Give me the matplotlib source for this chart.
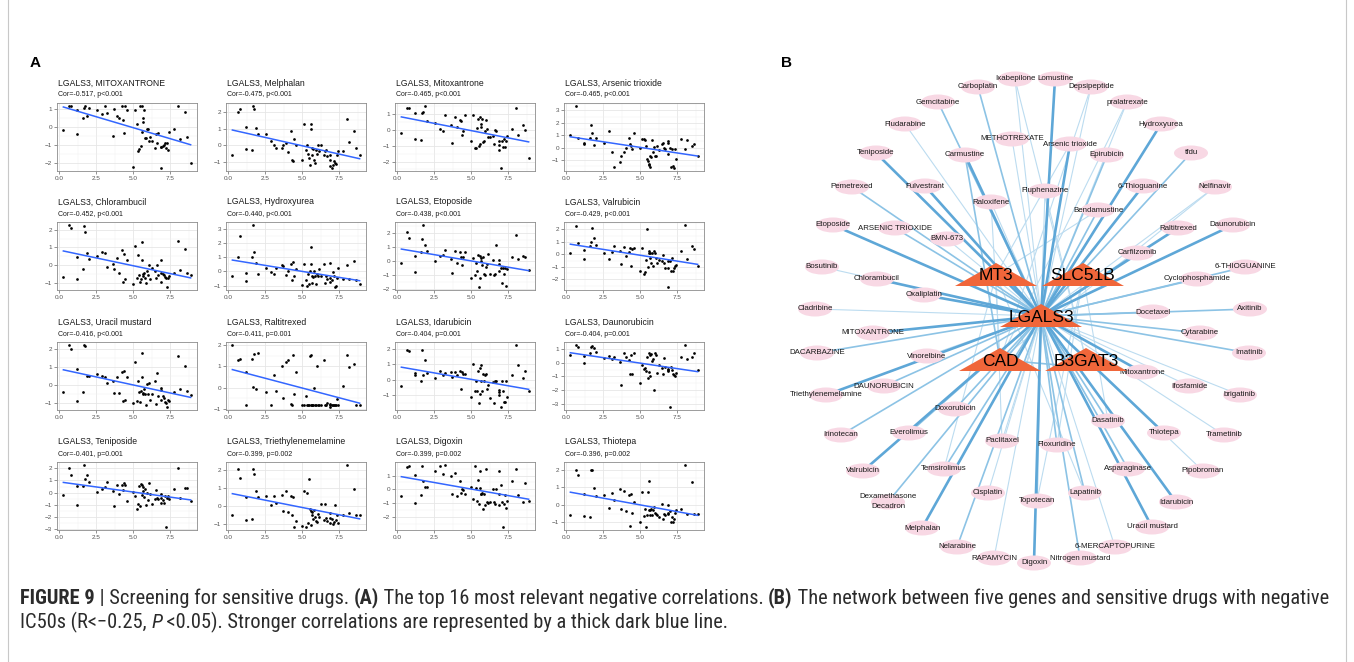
import numpy as np
import matplotlib
matplotlib.use('Agg')
import matplotlib.pyplot as plt
from matplotlib.ticker import MultipleLocator, FixedLocator
from matplotlib.patches import Ellipse, Polygon
from matplotlib.lines import Line2D
from matplotlib import font_manager
from matplotlib.font_manager import FontProperties

# ---------------- data: panel A ----------------
# LGALS3 expression (shared x for all 16 scatter plots)
x_lgals3 = [0.27, 0.65, 0.77, 1.17, 1.2, 1.57, 1.69, 1.75, 1.9, 2.0, 2.55, 2.85, 3.08, 3.24, 3.6,
            3.7, 3.87, 4.05, 4.25, 4.3, 4.37, 4.43, 4.6, 4.95, 5.1, 5.25, 5.34, 5.4, 5.45, 5.5,
            5.55, 5.6, 5.63, 5.68, 5.72, 5.8, 5.84, 5.9, 5.97, 6.08, 6.15, 6.28, 6.46, 6.53, 6.6,
            6.69, 6.85, 6.87, 6.9, 7.0, 7.07, 7.14, 7.2, 7.25, 7.36, 7.43, 7.75, 8.04, 8.15, 8.5,
            8.6, 8.87]

y_mitoxantrone_uc = [-0.2, 1.15, 1.15, -0.4, 0.95, 0.5, 1.05, 1.15, 0.6, 1.05, 0.95, 0.7, 1.15, 0.75, -0.5,
                     1.0, 0.6, 0.5, 1.15, 0.4, -0.35, 1.15, 0.95, -2.25, 0.95, 0.15, -1.35, -1.25, 1.15, -1.1,
                     1.15, -0.3, 0.5, 0.25, 0.95, -0.65, -0.65, -0.15, -0.15, -0.8, -0.6, -0.8, -1.2, -0.4, -0.9,
                     -0.35, -1.15, -2.3, -1.15, -1.1, -1.0, -0.9, -1.2, -0.9, -1.3, -0.3, -0.15, 1.15, -0.7, 0.8,
                     -0.6, -2.05]
y_melphalan = [-0.6, 2.0, 2.15, 1.1, -0.2, -0.25, 2.35, 2.2, 1.05, 0.65, 0.7, 0.25, 0.05, -0.15, -0.15,
               0.05, 0.15, -0.4, 0.85, -0.85, -0.95, 0.4, 0.05, -0.85, 1.3, -0.25, 0.0, -0.5, -0.75, -1.15,
               0.95, 1.25, -0.6, -0.15, -0.2, -0.9, -1.05, -0.25, -0.5, 0.05, -0.35, 0.05, -0.6, -0.35, -0.25,
               -0.65, -0.85, -0.55, -1.25, -1.35, -1.15, -0.95, -1.05, -1.1, -0.6, -0.35, -0.35, 1.6, 0.2, 0.85,
               -0.15, -0.6]
y_mitoxantrone = [-0.2, 1.35, 1.35, -0.55, 1.05, -0.63, 1.05, 1.15, 1.5, 0.55, 0.45, 0.05, -0.05, 0.95, 0.3,
                  -0.85, 0.8, 0.2, 0.6, 0.55, -0.3, -0.05, 0.95, -0.7, 0.95, -1.15, -1.15, 0.1, 0.7, -1.0,
                  -0.9, 0.8, 0.4, 0.15, 0.7, -0.75, -0.7, -0.05, 0.65, 0.05, -0.45, -0.45, -0.4, -0.9, 0.0,
                  -0.05, -0.7, -1.25, -0.95, -2.4, -0.7, -1.1, -0.55, -1.1, -0.7, -0.4, 0.05, 1.35, -0.35, 0.3,
                  0.0, -1.8]
y_arsenic = [1.0, 3.35, 0.75, 0.35, 0.3, 0.8, 1.85, 1.15, 0.2, 0.75, 0.35, 1.35, -0.35, -1.55, -1.15,
             -0.65, -0.35, -0.05, 0.8, 0.25, 0.15, -0.1, 1.15, -0.05, 0.7, 0.65, 0.6, 0.1, -0.95, -1.1,
             -1.3, -1.45, -1.55, -0.65, -0.8, 0.6, -0.35, 0.05, -0.7, -0.7, 0.15, -0.2, 0.25, 0.4, 0.0,
             -0.1, 0.55, 0.4, -0.55, 0.0, -1.55, -0.1, -1.5, -1.65, -0.1, -0.9, 0.7, -0.1, 0.6, 0.15,
             0.25, -0.7]
y_chlorambucil = [-0.65, 2.25, 2.1, -0.75, 0.45, -0.2, 2.2, 1.85, 0.7, 0.35, 0.5, 0.75, 0.7, -0.1, 0.1,
                  -0.2, 0.4, -0.45, 0.85, -0.95, 0.65, -0.75, 0.3, -1.05, 1.1, -0.7, 0.6, -0.55, -0.9, -0.75,
                  0.3, 1.3, -0.5, -0.6, -0.45, -0.7, -1.0, -0.3, -0.55, 0.05, -0.75, -0.15, -0.3, -0.7, 0.0,
                  -0.55, -0.95, 0.3, -0.4, -0.5, -0.55, -0.65, -0.7, -1.2, -0.7, -0.6, -0.4, 1.35, -0.25, 0.9,
                  -0.45, -0.55]
y_hydroxyurea = [-0.3, 1.0, 2.55, -0.65, -0.1, 1.05, 3.3, 1.35, 0.6, -0.15, 0.25, -0.05, -0.2, 0.25, 0.45,
                 0.4, -0.25, 0.05, 0.55, -0.6, 0.65, -0.35, 0.15, -0.95, 0.55, -0.6, -1.05, -0.2, -0.9, 0.0,
                 0.55, 1.75, -0.85, -0.3, -0.4, 0.05, -0.35, -0.9, -0.15, -0.35, 0.2, -0.35, 0.5, -0.8, -0.3,
                 -0.55, -0.75, -0.5, 0.6, -0.6, -0.05, -0.35, -1.1, -1.05, -0.5, 0.25, -0.55, 0.45, -0.55, 0.75,
                 -0.6, -0.9]
y_etoposide = [-0.1, 2.1, 1.65, -0.75, 0.35, 0.65, 1.6, 2.6, 1.15, 0.75, 0.05, 0.35, 0.45, 0.8, 0.15,
               -0.85, 0.7, -0.15, 0.65, 0.3, -0.25, 0.3, 0.65, -1.2, 0.2, -1.0, -0.1, -0.7, 0.45, -1.85,
               -1.2, 0.4, 0.05, 0.2, -0.3, 0.3, -0.95, -1.0, -0.4, -0.2, 0.55, -0.9, 0.1, -1.0, -0.95,
               1.15, -0.2, 0.1, -0.7, -0.5, -1.55, -0.5, -0.95, -0.5, -1.8, -0.55, 0.3, 1.9, 0.15, 0.35,
               0.3, -0.6]
y_valrubicin = [0.15, 2.3, 0.9, -0.4, 0.35, 0.7, 1.0, 2.1, 1.35, 0.75, 0.1, -0.4, 0.2, 0.65, 0.25,
                -0.75, 0.6, -0.1, 0.2, 0.5, -0.9, 0.4, 0.5, -1.3, 0.55, -1.55, -1.4, -0.45, 2.05, -1.0,
                0.3, 0.1, 0.15, -0.3, -0.65, 0.15, -0.95, 0.3, 0.15, -0.3, -0.7, -0.45, -0.55, -0.05, -0.65,
                -1.05, -0.55, -1.05, -2.6, -0.55, -1.3, -0.3, -1.35, -1.1, -0.95, -0.85, 0.25, 2.35, -0.4, 0.65,
                0.45, -0.9]
y_uracil = [-0.4, 2.2, 2.0, -0.9, 0.9, -0.4, 2.2, 2.15, 0.5, 0.5, 0.6, 0.5, 0.45, 0.1, 0.25,
            -0.45, 0.45, -0.45, 0.7, -0.9, 0.75, -0.8, 0.45, -1.0, 1.25, -0.85, 0.2, -0.4, -0.95, -0.35,
            0.45, 1.75, -0.5, -0.45, -0.2, -0.5, -1.1, 0.05, -0.5, 0.1, -0.8, -0.5, 0.25, -1.05, 0.65,
            -0.6, -0.8, -0.25, -0.15, -0.6, -0.7, -0.95, -1.0, -1.2, -0.8, -0.85, -0.4, 1.6, -0.2, 1.05,
            -0.3, -0.55]
y_raltitrexed = [2.0, 1.3, 1.35, -0.8, 0.75, 1.35, 0.05, 1.6, -0.05, 1.65, -0.2, -0.8, 0.6, -0.15, 1.0,
                 -0.5, 1.2, 1.3, -0.75, -0.8, 1.55, -0.3, 0.75, -0.8, -0.8, -0.4, -0.8, -0.8, -0.8, 1.5,
                 1.55, -0.8, -0.8, -0.8, -0.8, 0.0, -0.8, -0.8, 1.0, -0.8, -0.8, -0.8, 1.3, -0.8, -0.8,
                 -0.7, -0.8, -0.9, -0.75, -0.8, -0.8, -0.8, -0.8, -0.8, -0.55, -0.8, 0.1, 1.55, 0.95, 1.1,
                 -0.8, -0.8]
y_idarubicin = [-0.4, 1.95, 1.85, 0.45, 0.3, -0.1, 1.9, 0.3, 1.3, 0.45, 0.15, 0.6, 0.3, 0.45, 0.5,
                0.2, 0.5, 0.3, 0.55, -0.6, 0.5, 0.35, 0.35, -1.1, 1.0, -0.75, -0.05, -0.75, 0.6, -1.5,
                0.75, -0.9, -0.05, 0.95, -0.75, 0.4, -0.1, 0.3, 0.4, -0.6, -0.35, -1.2, -0.15, -1.5, -0.1,
                -0.1, -0.8, -1.0, -0.65, -1.75, -0.1, -0.75, -1.45, -1.45, -0.1, -1.1, 0.3, 2.25, 0.95, 0.15,
                0.55, -0.7]
y_daunorubicin = [0.55, 1.3, 1.15, 0.0, 0.5, 0.75, 1.15, 1.25, 1.1, 0.8, 0.35, 0.5, 0.3, 0.4, 0.05,
                  -1.65, 0.75, 0.4, 0.2, -0.8, 0.6, -0.8, 0.7, -1.5, -0.2, -0.45, -0.35, -0.6, 0.45, -1.1,
                  -0.7, 0.75, -0.95, 0.55, 0.65, 0.1, 0.3, -2.0, 0.75, 0.6, -0.75, -0.15, -0.4, -0.85, 0.35,
                  -0.3, -0.55, -0.6, -0.45, -3.25, -0.3, -0.55, -0.85, -0.9, -1.0, -0.75, 0.4, 1.3, 0.25, 0.4,
                  0.75, -0.5]
y_teniposide = [-0.2, 2.0, 1.4, -1.05, 0.55, 0.55, 2.25, 1.15, 1.45, 0.9, 0.05, 0.3, 0.45, 0.85, 0.15,
                -1.1, 0.6, -0.1, 0.65, 0.25, 0.75, 0.6, -0.65, 0.05, -0.3, -1.35, -0.95, 0.55, -1.1, 0.7,
                -0.2, 0.6, 0.1, 0.45, -0.35, 0.3, -1.05, -0.05, -0.6, 0.75, -0.15, -0.95, -0.55, 0.2, -0.45,
                -0.5, -0.1, -0.85, -0.4, -0.6, -0.85, -0.3, -2.8, -0.4, -0.25, -0.55, 0.3, 2.05, -0.4, 0.4,
                0.4, -0.7]
y_triethylene = [-0.5, 2.1, 1.6, -0.75, 0.5, -0.7, 2.1, 1.8, 0.85, 0.5, 0.55, 0.1, 0.6, 0.2, 0.65,
                 -0.25, 0.85, -0.3, 0.6, -0.5, 0.5, -1.15, -0.8, -1.1, 0.85, -1.15, 0.75, -0.95, 1.55, -0.15,
                 -0.25, -1.05, -0.3, -0.5, -0.7, -0.2, -0.6, -0.8, -0.9, -0.45, -0.6, 0.15, -0.75, 0.15, -0.65,
                 -0.8, -0.95, -0.4, -0.65, -0.7, -1.0, -0.85, 0.05, -0.75, -0.5, -0.95, -0.5, 2.3, -0.4, 0.95,
                 -0.5, -0.5]
y_digoxin = [-0.5, 1.6, 1.7, -1.0, 1.05, -0.4, 1.7, 0.6, 0.2, 0.15, 1.3, 1.7, 1.1, 1.75, 0.95,
             -0.3, 1.2, -0.45, 0.6, -0.25, 0.05, -0.05, -0.3, 0.15, -0.7, 1.65, 0.1, -0.85, 0.7, -1.05,
             0.1, 1.3, -0.3, -0.35, -0.25, -1.4, -0.3, -1.1, 1.45, -0.9, -1.0, -0.9, 0.05, -0.9, -1.05,
             0.0, 1.3, -0.3, -1.15, 0.3, -0.9, -2.7, -1.05, -0.4, -1.35, -0.8, 0.6, 1.5, -0.4, -0.9,
             0.45, -0.8]
y_thiotepa = [-0.55, 2.0, 1.7, 0.6, -0.65, -0.7, 1.95, 2.0, 0.95, 0.5, 0.55, -0.2, 0.65, 0.3, 0.9,
              -0.25, 0.8, -0.35, 0.55, -1.2, 0.6, -0.45, 0.15, -1.0, 0.75, -0.65, -0.25, -1.25, -0.6, 0.7,
              -0.3, 1.35, -0.55, -0.3, -0.25, -0.6, -0.3, -0.15, -0.45, -0.5, -0.6, -0.7, 0.05, -0.8, -0.5,
              -0.6, -0.45, -0.5, 0.0, -0.35, -0.95, -0.7, -0.95, -0.8, -0.45, -0.3, -0.25, 2.25, -0.5, 1.3,
              -0.5, -0.5]

drug_names_a = ['MITOXANTRONE', 'Melphalan', 'Mitoxantrone', 'Arsenic trioxide',
                'Chlorambucil', 'Hydroxyurea', 'Etoposide', 'Valrubicin',
                'Uracil mustard', 'Raltitrexed', 'Idarubicin', 'Daunorubicin',
                'Teniposide', 'Triethylenemelamine', 'Digoxin', 'Thiotepa']
cor_labels = ['Cor=-0.517, p<0.001', 'Cor=-0.475, p<0.001', 'Cor=-0.465, p<0.001', 'Cor=-0.465, p<0.001',
              'Cor=-0.452, p<0.001', 'Cor=-0.440, p<0.001', 'Cor=-0.438, p<0.001', 'Cor=-0.429, p<0.001',
              'Cor=-0.416, p<0.001', 'Cor=-0.411, p=0.001', 'Cor=-0.404, p=0.001', 'Cor=-0.404, p=0.001',
              'Cor=-0.401, p=0.001', 'Cor=-0.399, p=0.002', 'Cor=-0.399, p=0.002', 'Cor=-0.396, p=0.002']
y_series = [y_mitoxantrone_uc, y_melphalan, y_mitoxantrone, y_arsenic,
            y_chlorambucil, y_hydroxyurea, y_etoposide, y_valrubicin,
            y_uracil, y_raltitrexed, y_idarubicin, y_daunorubicin,
            y_teniposide, y_triethylene, y_digoxin, y_thiotepa]

# ---------------- data: panel B (network layout) ----------------
gene_names = ['LGALS3', 'MT3', 'SLC51B', 'CAD', 'B3GAT3']
gene_x = [1041, 996, 1083, 1000, 1086]
gene_y = [316, 275, 275, 360, 360]

drug_names_b = ['Carboplatin', 'Ixabepilone', 'Lomustine', 'Depsipeptide', 'Gemcitabine', 'pralatrexate',
                'Fludarabine', 'Hydroxyurea', 'METHOTREXATE', 'Arsenic trioxide', 'Teniposide', 'Carmustine',
                'Epirubicin', 'tfdu', 'Pemetrexed', 'Fulvestrant', 'Fluphenazine', '6-Thioguanine',
                'Nelfinavir', 'Raloxifene', 'Bendamustine', 'Etoposide', 'ARSENIC TRIOXIDE', 'BMN-673',
                'Raltitrexed', 'Daunorubicin', 'Carfilzomib', 'Bosutinib', 'Chlorambucil', '6-THIOGUANINE',
                'Cyclophosphamide', 'Oxaliplatin', 'Cladribine', 'Docetaxel', 'Axitinib', 'MITOXANTRONE',
                'Cytarabine', 'DACARBAZINE', 'Vinorelbine', 'Imatinib', 'Mitoxantrone', 'DAUNORUBICIN',
                'Ifosfamide', 'Triethylenemelamine', 'brigatinib', 'Doxorubicin', 'Dasatinib', 'Irinotecan',
                'Everolimus', 'Thiotepa', 'Trametinib', 'Paclitaxel', 'Floxuridine', 'Valrubicin',
                'Temsirolimus', 'Asparaginase', 'Pipobroman', 'Dexamethasone\nDecadron', 'Cisplatin',
                'Topotecan', 'Lapatinib', 'Idarubicin', 'Melphalan', 'Uracil mustard', 'Nelarabine',
                '6-MERCAPTOPURINE', 'RAPAMYCIN', 'Digoxin', 'Nitrogen mustard']
drug_x = [978, 1015, 1055, 1091, 938, 1127, 905, 1161, 1012, 1070, 876, 965,
          1107, 1191, 852, 925, 1045, 1143, 1215, 991, 1098, 833, 895, 947,
          1178, 1233, 1137, 822, 877, 1245, 1197, 924, 815, 1153, 1250, 873,
          1200, 817, 927, 1249, 1142, 884, 1189, 826, 1240, 955, 1108, 841,
          909, 1164, 1224, 1002, 1057, 863, 944, 1128, 1203, 888, 988,
          1037, 1085, 1176, 922, 1152, 957, 1115, 994, 1034, 1080]
drug_y = [87, 79, 79, 87, 102, 102, 124, 124, 139, 144, 153, 155,
          155, 153, 187, 186, 191, 186, 187, 202, 210, 225, 228, 239,
          228, 225, 253, 267, 279, 267, 279, 295, 309, 312, 309, 333,
          333, 353, 356, 353, 372, 386, 386, 395, 395, 409, 421, 435,
          433, 433, 435, 441, 445, 471, 469, 469, 471, 502, 493,
          501, 493, 502, 528, 527, 547, 547, 558, 563, 558]
# correlation strength of each drug with LGALS3 (1 weak ... 3 strong)
lgals3_strength = [2, 1, 3, 1, 2, 1, 1, 3, 1, 3, 3, 3,
                   2, 2, 2, 3, 1, 3, 1, 1, 2, 3, 2, 1,
                   3, 3, 2, 1, 3, 2, 2, 3, 1, 2, 2, 3,
                   2, 2, 1, 2, 3, 2, 1, 3, 1, 2, 2, 2,
                   2, 3, 1, 1, 2, 3, 2, 2, 1, 2, 1,
                   2, 2, 3, 3, 3, 2, 1, 1, 3, 2]
# further drug-gene edges
extra_drug = ['Depsipeptide', 'Carmustine', 'Raloxifene', 'Arsenic trioxide', 'Bendamustine', 'Fluphenazine',
              'Paclitaxel', 'Floxuridine', 'Dasatinib', 'Lapatinib', 'Nelfinavir', 'pralatrexate',
              'Temsirolimus', 'Topotecan', 'Mitoxantrone', 'Ixabepilone']
extra_gene = ['CAD', 'CAD', 'CAD', 'MT3', 'MT3', 'B3GAT3',
              'MT3', 'SLC51B', 'SLC51B', 'MT3', 'CAD', 'CAD',
              'MT3', 'SLC51B', 'CAD', 'B3GAT3']
extra_strength = [1, 2, 1, 1, 1, 1, 1, 1, 1, 1, 1, 1, 1, 1, 2, 1]

# ---------------- figure ----------------
W, H = 1354, 662
fig = plt.figure(figsize=(W / 100, H / 100), dpi=100)
fig.patch.set_facecolor('white')

def fx(px):
    return px / W

def fy(py):
    return 1 - py / H

base_font = 'Liberation Sans'

# ---- panel A ----
col_left = [57, 226, 395, 564]
row_top = [103, 222, 342, 462]
ax_w, ax_h = 140, 68

for k in range(16):
    r, c = divmod(k, 4)
    ax = fig.add_axes([fx(col_left[c]), fy(row_top[r] + ax_h), ax_w / W, ax_h / H])
    xs = np.array(x_lgals3)
    ys = np.array(y_series[k])
    ax.scatter(xs, ys, s=3.8, color='black', linewidths=0, zorder=3)
    b1, b0 = np.polyfit(xs, ys, 1)
    xl = np.array([xs.min(), xs.max()])
    ax.plot(xl, b0 + b1 * xl, color='#3366FF', lw=1.1, zorder=4)
    ax.margins(0.05)
    ax.xaxis.set_major_locator(FixedLocator([0, 2.5, 5, 7.5]))
    ax.xaxis.set_minor_locator(MultipleLocator(1.25))
    ax.yaxis.set_major_locator(MultipleLocator(1))
    ax.yaxis.set_minor_locator(MultipleLocator(0.5))
    ax.set_xticklabels(['0.0', '2.5', '5.0', '7.5'])
    ax.grid(which='major', color='#e6e6e6', lw=0.6, zorder=0)
    ax.grid(which='minor', color='#f2f2f2', lw=0.35, zorder=0)
    ax.set_axisbelow(True)
    ax.tick_params(which='major', length=2, width=0.5, color='#666666', labelsize=4.6,
                   labelcolor='#555555', pad=1.5)
    ax.tick_params(which='minor', length=0)
    for lab in ax.get_xticklabels() + ax.get_yticklabels():
        lab.set_family(base_font)
    for sp in ax.spines.values():
        sp.set_color('#8c8c8c')
        sp.set_linewidth(0.6)
    fig.text(fx(col_left[c] + 1), fy(row_top[r] - 20), 'LGALS3, ' + drug_names_a[k],
             fontsize=6.2, family=base_font, color='#1a1a1a', va='center', ha='left')
    fig.text(fx(col_left[c] + 1), fy(row_top[r] - 8), cor_labels[k],
             fontsize=5.0, family=base_font, color='#1a1a1a', va='center', ha='left')

fig.text(fx(30), fy(63), 'A', fontsize=11, fontweight='bold', family=base_font, va='center')
fig.text(fx(781), fy(63), 'B', fontsize=11, fontweight='bold', family=base_font, va='center')

# ---- panel B ----
bx0, bx1, by0, by1 = 770, 1350, 50, 580
axb = fig.add_axes([fx(bx0), fy(by1), (bx1 - bx0) / W, (by1 - by0) / H])
axb.set_xlim(bx0, bx1)
axb.set_ylim(by1, by0)
axb.axis('off')

edge_color = {1: '#bcdcf0', 2: '#8cc3e5', 3: '#5ea7d7'}
edge_width = {1: 0.8, 2: 1.2, 3: 1.9}
gpos = {g: (gx, gy) for g, gx, gy in zip(gene_names, gene_x, gene_y)}
dpos = {d.replace('\n', ' '): (dx, dy) for d, dx, dy in zip(drug_names_b, drug_x, drug_y)}

edges = [(d.replace('\n', ' '), 'LGALS3', s) for d, s in zip(drug_names_b, lgals3_strength)]
edges += list(zip(extra_drug, extra_gene, extra_strength))
edges.sort(key=lambda e: e[2])
for d, g, s in edges:
    x0, y0 = dpos[d]
    x1, y1 = gpos[g]
    axb.plot([x0, x1], [y0, y1], color=edge_color[s], lw=edge_width[s], zorder=1,
             solid_capstyle='round')

for d, dx, dy in zip(drug_names_b, drug_x, drug_y):
    axb.add_patch(Ellipse((dx, dy), 34, 15, facecolor='#f8d8e4', edgecolor='none', zorder=2))
    axb.text(dx, dy, d, fontsize=5.7, family=base_font, color='#1a1a1a', ha='center',
             va='center', zorder=3, linespacing=1.6)

for g, gx, gy in zip(gene_names, gene_x, gene_y):
    tri = Polygon([[gx - 41, gy + 11], [gx + 41, gy + 11], [gx, gy - 12]], closed=True,
                  facecolor='#f0663a', edgecolor='none', zorder=4)
    axb.add_patch(tri)
    axb.text(gx, gy + 1, g, fontsize=12.5, family=base_font, color='black', ha='center',
             va='center', zorder=5)

# ---- frame lines ----
fig.add_artist(Line2D([fx(8), fx(8)], [0, 1], color='#c8c8c8', lw=0.8))
fig.add_artist(Line2D([fx(1346), fx(1346)], [0, 1], color='#c8c8c8', lw=0.8))

# ---- caption (look for a narrow/condensed face) ----
def pick_condensed():
    entries = font_manager.fontManager.ttflist
    prefs = ['liberation sans narrow', 'arial narrow', 'roboto condensed', 'open sans condensed',
             'dejavu sans condensed', 'noto sans condensed']
    groups = {}
    for f in entries:
        nm = f.name.lower()
        fn = f.fname.lower()
        narrow = ('narrow' in nm or 'condensed' in nm or 'condensed' in fn or 'narrow' in fn
                  or str(f.stretch) in ('condensed', 'semi-condensed', 'extra-condensed'))
        if not narrow:
            continue
        key = nm
        if 'dejavu' in nm:
            key = 'dejavu sans condensed' if 'mono' not in nm and 'serif' not in nm else nm
        if 'noto sans' in nm and 'cjk' not in nm and 'mono' not in nm:
            key = 'noto sans condensed' if ('condensed' in fn) else key
        groups.setdefault(key, []).append(f)
    for p in prefs:
        if p in groups:
            return groups[p]
    return None

def face_for(group, bold, italic):
    best = None
    for f in group:
        w = f.weight if isinstance(f.weight, int) else (700 if 'bold' in str(f.weight) else 400)
        is_b = w >= 600
        is_i = f.style in ('italic', 'oblique')
        fn = f.fname.lower()
        if 'semi' in fn or 'light' in fn or 'extra' in fn or 'black' in fn or 'medium' in fn or 'thin' in fn:
            continue
        if is_b == bold and is_i == italic:
            return FontProperties(fname=f.fname)
        if is_b == bold and best is None:
            best = f
    if best is not None:
        return FontProperties(fname=best.fname)
    return None

cond = pick_condensed()

def cap_props(wt, st, size):
    fp = None
    if cond:
        fp = face_for(cond, wt == 'bold', st == 'italic')
    if fp is None:
        fp = FontProperties(family=base_font, weight=wt, style=st)
    fp = fp.copy()
    fp.set_size(size)
    return fp

line1 = [('FIGURE 9', 'bold', 'normal'), (' | Screening for sensitive drugs. ', 'normal', 'normal'),
         ('(A)', 'bold', 'normal'), (' The top 16 most relevant negative correlations. ', 'normal', 'normal'),
         ('(B)', 'bold', 'normal'),
         (' The network between five genes and sensitive drugs with negative', 'normal', 'normal')]
line2 = [('IC50s (R<\u22120.25, ', 'normal', 'normal'), ('P', 'normal', 'italic'),
         (' <0.05). Stronger correlations are represented by a thick dark blue line.', 'normal', 'normal')]

renderer = fig.canvas.get_renderer()

def draw_runs(runs, x_px, y_px, size, measure_only=False):
    x = x_px
    texts = []
    for txt, wt, st in runs:
        t = fig.text(fx(x), fy(y_px), txt, fontproperties=cap_props(wt, st, size),
                     color='#2b2b2b', va='center', ha='left')
        w = t.get_window_extent(renderer).width
        x += w
        texts.append(t)
    if measure_only:
        for t in texts:
            t.remove()
    return x - x_px

w10 = draw_runs(line1, 20, 598, 10, measure_only=True)
cap_size = 10 * (1300 / w10)
draw_runs(line1, 20, 598, cap_size)
draw_runs(line2, 20, 622, cap_size)

fig.savefig('out.png', dpi=100, facecolor='white')
